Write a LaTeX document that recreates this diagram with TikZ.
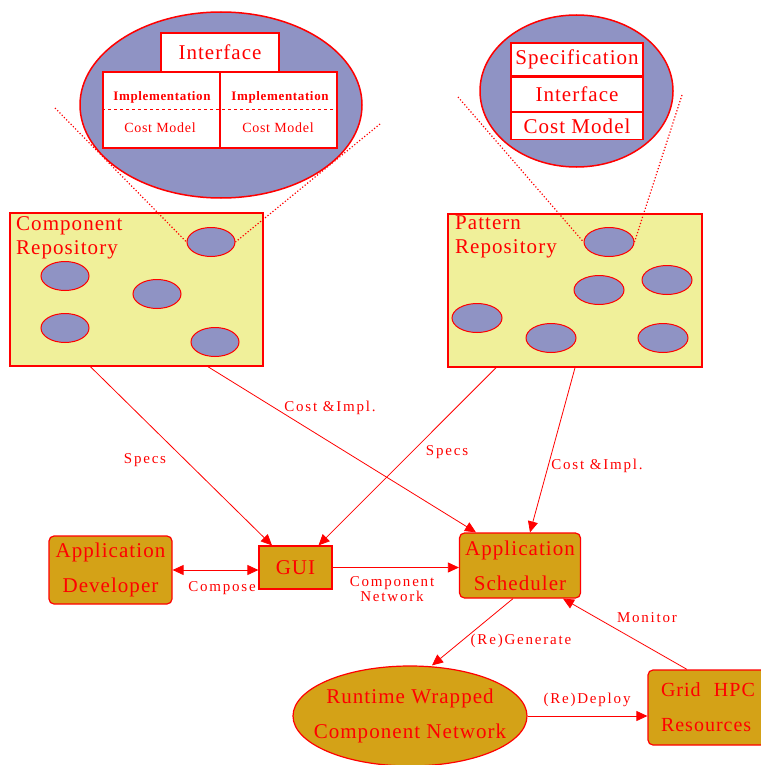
\documentclass[tikz,border=0pt]{standalone}
\usepackage{fontspec}
\setmainfont{Liberation Serif}[LetterSpace=5]
\newfontfamily\lblfont{Liberation Serif}[LetterSpace=12]
\usetikzlibrary{shapes.geometric,arrows.meta,positioning}
\definecolor{lav}{RGB}{143,147,196}
\definecolor{pale}{RGB}{240,240,154}
\definecolor{gold}{RGB}{212,162,23}

\begin{document}
\begin{tikzpicture}[x=1pt,y=-1pt,
  every node/.style={text=red},
  lens/.style={ellipse,draw=red,fill=lav,line width=1.5pt,inner sep=0pt},
  cell/.style={draw=red,fill=white,line width=1.2pt,inner sep=0pt,font=\fontsize{21}{24}\selectfont},
  repo/.style={draw=red,fill=pale,line width=1.5pt,inner sep=0pt},
  blob/.style={ellipse,draw=red,fill=lav,line width=1pt,minimum width=48pt,minimum height=29pt,inner sep=0pt},
  actor/.style={draw=red,fill=gold,line width=1.2pt,align=center,inner sep=0pt,font=\fontsize{21}{35}\selectfont},
  flow/.style={red,line width=0.8pt,-{Triangle[length=11pt,width=10pt]}},
  zoomline/.style={draw=red,dotted,line width=1.2pt},
  lbl/.style={font=\lblfont\fontsize{15}{15}\selectfont,align=center,inner sep=1pt}]
  \useasboundingbox (0,0) rectangle (760,765);

  % zoomed component
  \node[lens,minimum width=282pt,minimum height=186pt] (clens) at (221,105) {};
  \node[cell,minimum width=118pt,minimum height=39pt] (ciface) at (220,52.5) {Interface};
  \node[cell,minimum width=234pt,minimum height=76pt] (cimpl) at (220,110) {};
  \draw[red,line width=1.2pt] (cimpl.north) -- (cimpl.south);
  \draw[red,dashed,line width=1pt] (cimpl.west) -- (cimpl.east);
  \node[font=\bfseries\fontsize{13}{15}\selectfont] (cim1) at (162,97) {Implementation};
  \node[font=\bfseries\fontsize{13}{15}\selectfont] (cim2) at (280,97) {Implementation};
  \node[font=\fontsize{14}{16}\selectfont] (ccm1) at (160,128) {Cost Model};
  \node[font=\fontsize{14}{16}\selectfont] (ccm2) at (278,128) {Cost Model};

  % zoomed pattern
  \node[lens,minimum width=193pt,minimum height=152pt] (plens) at (576.5,91) {};
  \node[cell,minimum width=132pt,minimum height=33pt] (pspec) at (577,59.5) {Specification};
  \node[cell,minimum width=132pt,minimum height=34pt,below=0pt of pspec] (piface) {Interface};
  \node[cell,minimum width=132pt,minimum height=27pt,below=0pt of piface] (pcost) {Cost Model};

  % repositories
  \node[repo,minimum width=253pt,minimum height=153pt] (comprepo) at (136.5,289.5) {};
  \node[anchor=north west,align=left,inner sep=0pt,font=\fontsize{21}{24}\selectfont] (comptitle) at (16,216) {Component\\Repository};
  \node[blob] (cb1) at (211,242) {};
  \node[blob] (cb2) at (65,276) {};
  \node[blob] (cb3) at (157,294) {};
  \node[blob] (cb4) at (65,328) {};
  \node[blob] (cb5) at (215,342) {};

  \node[repo,minimum width=254pt,minimum height=153pt] (patrepo) at (575,290.5) {};
  \node[anchor=north west,align=left,inner sep=0pt,font=\fontsize{21}{24}\selectfont] (pattitle) at (455,216) {Pattern\\Repository};
  \node[blob,minimum width=50pt] (pb1) at (609,242) {};
  \node[blob,minimum width=50pt] (pb2) at (667,280) {};
  \node[blob,minimum width=50pt] (pb3) at (599,290) {};
  \node[blob,minimum width=50pt] (pb4) at (477,318) {};
  \node[blob,minimum width=50pt] (pb5) at (551,338) {};
  \node[blob,minimum width=50pt] (pb6) at (663,338) {};

  % zoom lines
  \coordinate (cz1) at (55,108);
  \coordinate (cz2) at (380,124);
  \coordinate (pz1) at (458,97);
  \coordinate (pz2) at (682,95);
  \draw[zoomline] (cz1) -- (cb1.west);
  \draw[zoomline] (cz2) -- (cb1.east);
  \draw[zoomline] (pz1) -- (pb1.west);
  \draw[zoomline] (pz2) -- (pb1.east);

  % actors
  \node[actor,rounded corners=5pt,minimum width=123pt,minimum height=68pt] (dev) at (110.5,570) {Application\\Developer};
  \node[actor,minimum width=73pt,minimum height=43pt] (gui) at (295.5,567.5) {GUI};
  \node[actor,rounded corners=5pt,minimum width=121pt,minimum height=65pt] (sched) at (520,565.5) {Application\\Scheduler};
  \node[actor,ellipse,inner xsep=-14pt,minimum width=234pt,minimum height=100pt] (runtime) at (410,716) {Runtime Wrapped\\Component Network};
  \node[actor,rounded corners=5pt,text width=104pt,align=left,font=\fontsize{20}{35}\selectfont,minimum width=130pt,minimum height=75pt] (grid) at (713,707.5) {Grid\ \ HPC\\Resources};

  \path[flow]
    ([xshift=-46pt]comprepo.south) edge ([xshift=-23.5pt]gui.north)
    ([xshift=71.5pt]comprepo.south) edge ([xshift=-44pt]sched.north)
    ([xshift=-79pt]patrepo.south) edge ([xshift=23pt]gui.north)
    (patrepo.south) edge ([xshift=10pt]sched.north)
    (gui.east) edge (gui.east -| sched.west)
    ([xshift=-7pt]sched.south) edge ([xshift=22pt]runtime.north)
    ([xshift=-26pt]grid.north) edge ([xshift=43pt]sched.south)
    (runtime.east) edge (runtime.east -| grid.west);
  \draw[flow,{Triangle[length=11pt,width=10pt]}-{Triangle[length=11pt,width=10pt]}] (dev.east) -- (dev.east -| gui.west);

  % labels
  \node[lbl] (l1) at (145,460) {Specs};
  \node[lbl] (l2) at (330,408) {Cost \&Impl.};
  \node[lbl] (l3) at (447,452) {Specs};
  \node[lbl] (l4) at (597,466) {Cost \&Impl.};
  \node[lbl] (l5) at (222,588) {Compose};
  \node[lbl] (l6) at (392,589) {Component\\Network};
  \node[lbl] (l7) at (521,641) {(Re)Generate};
  \node[lbl] (l8) at (647,618) {Monitor};
  \node[lbl] (l9) at (587,700) {(Re)Deploy};
\end{tikzpicture}
\end{document}
